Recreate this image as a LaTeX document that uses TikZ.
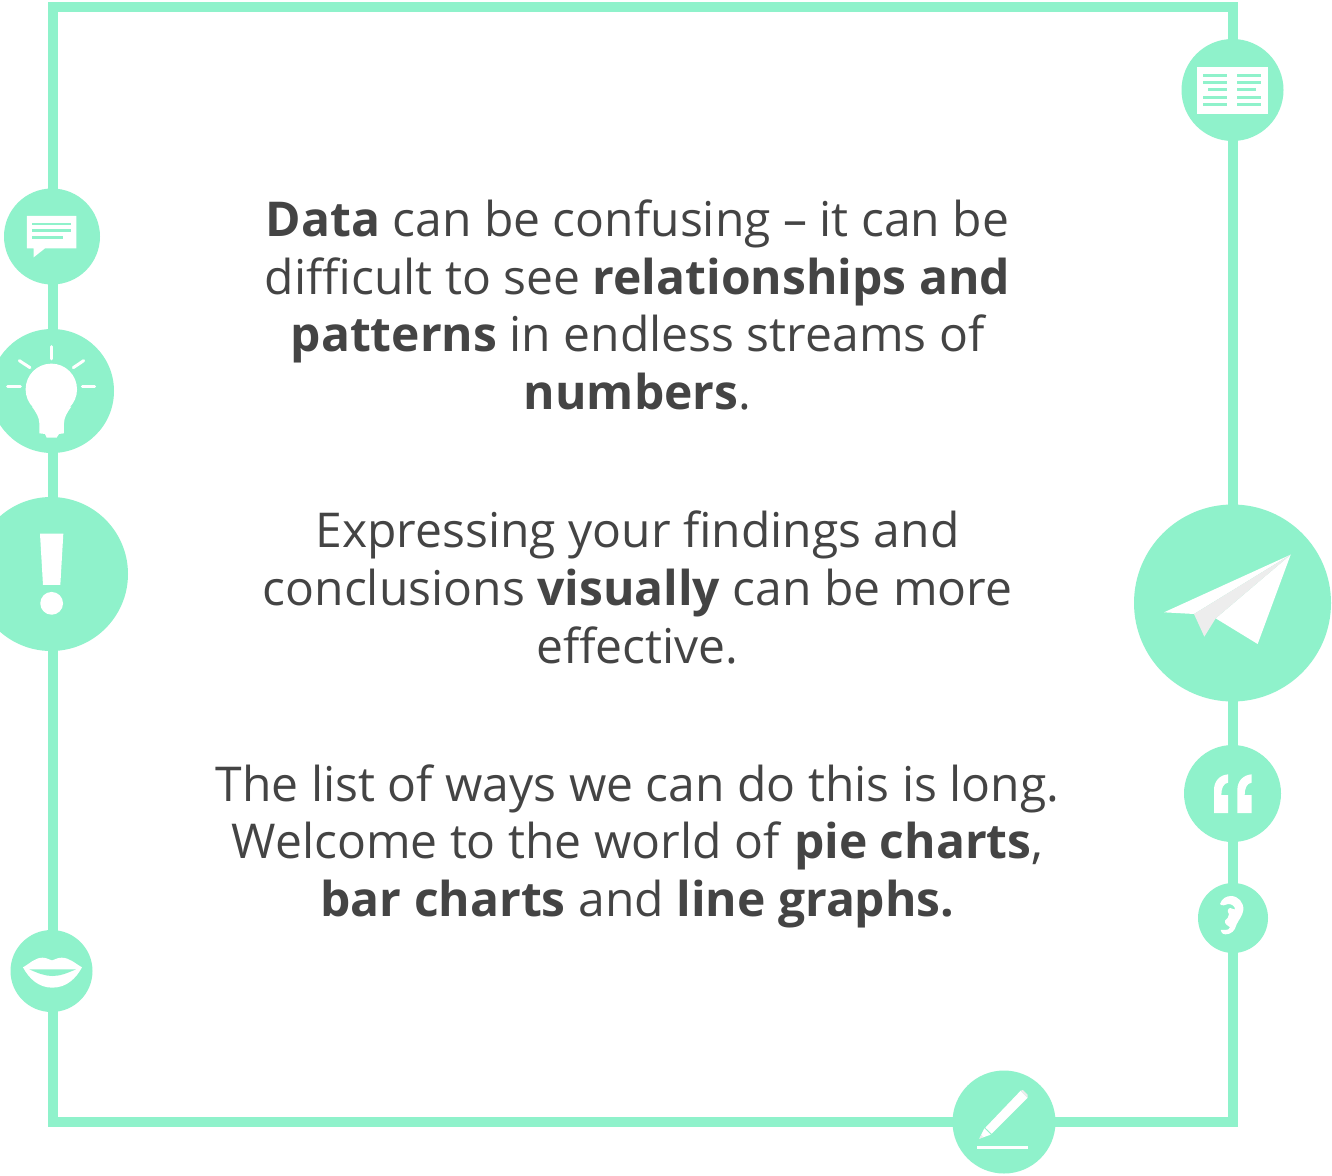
\documentclass[tikz,border=0pt]{standalone}
\usepackage{fontspec}
\setmainfont{Open Sans}
\definecolor{mint}{HTML}{8FF2CB}
\definecolor{ink}{HTML}{444444}
\definecolor{fold}{HTML}{EDEDED}
\tikzset{
  badge/.style={circle,fill=mint,draw=none,inner sep=0pt,minimum size=#1},
  para/.style={align=center,text=ink,inner sep=0pt,font=\fontsize{48}{57.6}\selectfont},
  icon/.style={fill=white,draw=none},
  cut/.style={fill=mint,draw=none},
  ray/.style={draw=white,line width=3pt,line cap=round},
  zoomed/.style={x=0.3333pt,y=-0.3333pt}
}
\begin{document}
\begin{tikzpicture}[x=1pt,y=-1pt]
\path[clip] (0,0) rectangle (1332,1175);
\fill[white] (0,0) rectangle (1332,1175);
% frame
\draw[mint,line width=10pt] (53,7) rectangle (1233,1122);
% badges
\node[badge=96pt]  (chat)  at (52,236.5) {};
\node[badge=124pt] (bulb)  at (52,391) {};
\node[badge=154pt] (excl)  at (51,574) {};
\node[badge=82pt]  (lips)  at (51.5,971) {};
\node[badge=102pt] (book)  at (1232.5,90) {};
\node[badge=197pt] (plane) at (1232.5,603) {};
\node[badge=97pt]  (quote) at (1232.5,793.5) {};
\node[badge=70pt]  (ear)   at (1233,918) {};
\node[badge=103pt] (pen)   at (1004,1122) {};
% chat icon
\begin{scope}[shift={(0,180)},zoomed]
\fill[icon] (81,108) -- (229,108) -- (229,205) -- (135,205) -- (101,232) -- (101,205) -- (81,205) -- cycle;
\fill[cut] (96,129) rectangle (213,135);
\fill[cut] (96,148) rectangle (213,155);
\fill[cut] (96,168) rectangle (189,176);
% bulb
\draw[ray] (154,500) -- (154,537);
\draw[ray] (58,542) -- (90,563);
\draw[ray] (251,542) -- (220,563);
\draw[ray] (23,621) -- (61,621);
\draw[ray] (247,621) -- (284,621);
\fill[icon] (154,628) circle[radius=25.7pt];
\fill[icon] (96,680) .. controls (108,697) and (118,712) .. (118,730) -- (118,760) -- (135,762) -- (140,773) -- (170,773) -- (177,762) -- (192,760) -- (192,730) .. controls (192,712) and (202,697) .. (214,680) -- cycle;
\end{scope}
% exclamation
\begin{scope}[shift={(0,490)},zoomed]
\fill[icon] (120,131) -- (190,131) -- (181,285) -- (129,285) -- cycle;
\fill[icon] (155,340) circle[radius=11.4pt];
\end{scope}
% lips
\begin{scope}[shift={(0,920)},zoomed]
\fill[icon] (69,142) .. controls (90,130) and (105,113) .. (128,113) .. controls (140,113) and (150,120) .. (156,121) .. controls (162,120) and (172,113) .. (185,113) .. controls (208,113) and (225,130) .. (246,142) .. controls (228,175) and (200,203) .. (157,203) .. controls (115,203) and (87,175) .. (69,142) -- cycle;
\fill[cut] (88,148) -- (228,148) .. controls (200,160) and (180,168) .. (157,168) .. controls (135,168) and (115,160) .. (88,148) -- cycle;
\end{scope}
% book
\begin{scope}[shift={(1170,30)},zoomed]
\fill[icon] (81,111) rectangle (294,252);
\fill[cut] (99,132) rectangle (171,140);
\fill[cut] (99,153) rectangle (171,161);
\fill[cut] (114,174) rectangle (171,182);
\fill[cut] (99,198) rectangle (171,206);
\fill[cut] (99,219) rectangle (171,227);
\fill[cut] (201,132) rectangle (273,140);
\fill[cut] (201,153) rectangle (273,161);
\fill[cut] (201,174) rectangle (258,182);
\fill[cut] (201,198) rectangle (273,206);
\fill[cut] (201,219) rectangle (273,227);
\end{scope}
% plane
\begin{scope}[shift={(1130,500)},zoomed]
\fill[icon] (102,337) -- (482,164) -- (192,342) -- cycle;
\fill[icon] (482,164) -- (383,432) -- (257,355) -- cycle;
\fill[fold] (192,342) -- (482,164) -- (257,355) -- (223,410) -- cycle;
\end{scope}
% quote
\begin{scope}[shift={(1170,740)},zoomed]
\fill[icon] (132,219) -- (132,150) .. controls (132,122) and (150,105) .. (174,103) -- (174,128) .. controls (160,130) and (154,145) .. (154,165) -- (174,165) -- (174,219) -- cycle;
\fill[icon] (202,219) -- (202,150) .. controls (202,122) and (220,105) .. (245,103) -- (245,128) .. controls (230,130) and (224,145) .. (224,165) -- (245,165) -- (245,219) -- cycle;
\end{scope}
% ear
\begin{scope}[shift={(1205,890)},zoomed]
\fill[icon] (45,42) .. controls (50,25) and (65,18) .. (78,18) .. controls (100,18) and (117,38) .. (115,60) .. controls (113,78) and (100,90) .. (94,105) .. controls (90,122) and (78,133) .. (62,133) .. controls (52,133) and (47,126) .. (47,120) .. controls (55,117) and (70,125) .. (75,112) .. controls (68,105) and (58,103) .. (60,92) .. controls (66,86) and (72,82) .. (72,72) .. controls (66,66) and (68,54) .. (76,54) .. controls (84,54) and (88,62) .. (90,58) .. controls (90,48) and (80,42) .. (70,42) .. controls (60,44) and (52,50) .. (45,42) -- cycle;
\end{scope}
% pen
\begin{scope}[shift={(940,1060)},zoomed]
\fill[icon] (136,203) -- (242,92) -- (263,113) -- (155,221) -- cycle;
\fill[fold] (242,92) -- (249,90) -- (263,104) -- (263,113) -- cycle;
\fill[icon] (133,205) -- (118,236) -- (152,224) -- cycle;
\fill[fold] (124,224) -- (118,236) -- (130,232) -- cycle;
\fill[icon] (111,258) rectangle (264,267);
\end{scope}
% text
\node[para] (p1) at (637.5,305) {\textbf{Data} can be confusing – it can be\\difficult to see \textbf{relationships and}\\\textbf{patterns} in endless streams of\\\textbf{numbers}.};
\node[para] (p2) at (637.5,587.5) {Expressing your findings and\\conclusions \textbf{visually} can be more\\effective.};
\node[para] (p3) at (637.5,846) {The list of ways we can do this is long.\\Welcome to the world of \textbf{pie charts},\\\textbf{bar charts} and \textbf{line graphs.}};
\end{tikzpicture}
\end{document}
